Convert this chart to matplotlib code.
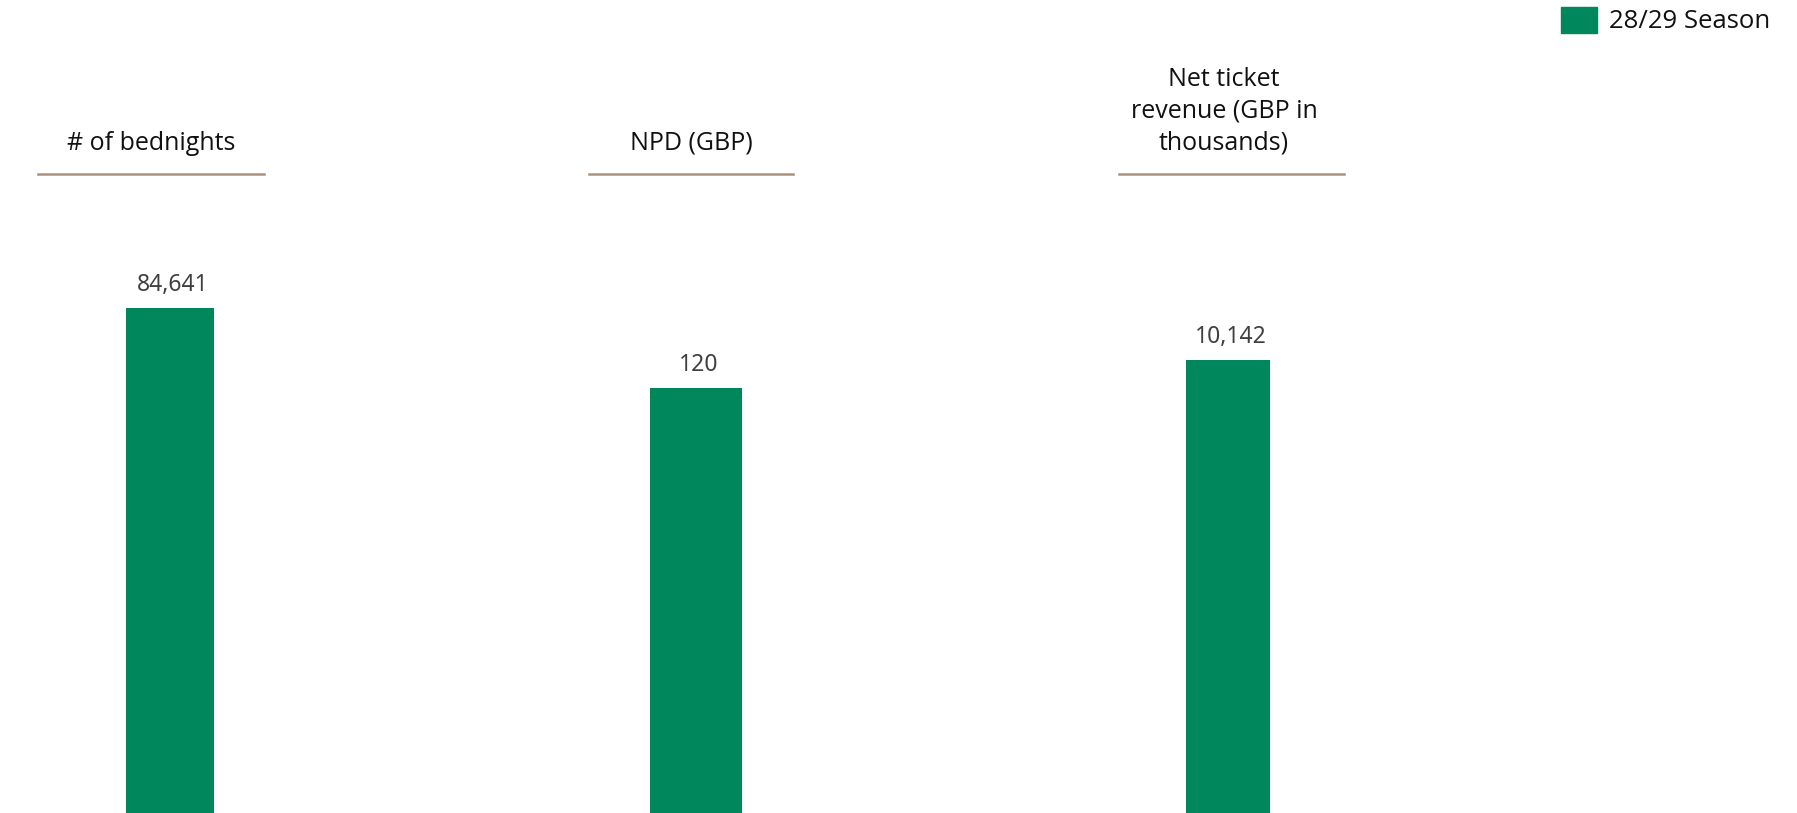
import matplotlib.pyplot as plt
from matplotlib.patches import Rectangle
from matplotlib.lines import Line2D

metrics = ["# of bednights", "NPD (GBP)", "Net ticket\nrevenue (GBP in\nthousands)"]
values = [84641, 120, 10142]
season = "28/29 Season"

W, H = 1797, 813
GREEN = "#00875C"
RULE = "#A8927C"
FONT = "Open Sans"

fig = plt.figure(figsize=(W / 100, H / 100), dpi=100)

# each panel: bar centre, title centre, rule extent (px), bar width (px), top of bar (px from top)
panels = [
    dict(bar_x=170, bar_w=88, top=308, title_x=151, rule=(38, 264)),
    dict(bar_x=696, bar_w=92, top=388, title_x=691, rule=(589, 793)),
    dict(bar_x=1228, bar_w=84, top=360, title_x=1224, rule=(1119, 1344)),
]

ax_top = 200  # px from top of figure
for label, val, p in zip(metrics, values, panels):
    aw = 200
    ax = fig.add_axes([(p["bar_x"] - aw / 2) / W, 0, aw / W, (H - ax_top) / H])
    ax.bar([0], [val], width=p["bar_w"] / aw, color=GREEN)
    ymax = val * (H - ax_top) / (H - p["top"])
    ax.set_ylim(0, ymax)
    ax.set_xlim(-0.5, 0.5)
    ax.axis("off")
    ax.annotate(f"{val:,}", (0, val), xytext=(2, 8), textcoords="offset points",
                ha="center", va="bottom", fontsize=16.5, color="#404040",
                family="Noto Sans")

    fig.text(p["title_x"] / W, 1 - 150 / H, label, ha="center", va="baseline",
             fontsize=18, family=FONT, color="#111111", linespacing=1.37)
    x0, x1 = p["rule"]
    fig.add_artist(Line2D([x0 / W, x1 / W], [1 - 174 / H] * 2, color=RULE, lw=1.8))

# legend
fig.add_artist(Rectangle((1561 / W, 1 - 33 / H), 36 / W, 26 / H, color=GREEN,
                         transform=fig.transFigure))
fig.text(1609 / W, 1 - 22 / H, season, ha="left", va="center", fontsize=18.5,
         family=FONT, color="#111111")

fig.savefig("out.png", dpi=100)
